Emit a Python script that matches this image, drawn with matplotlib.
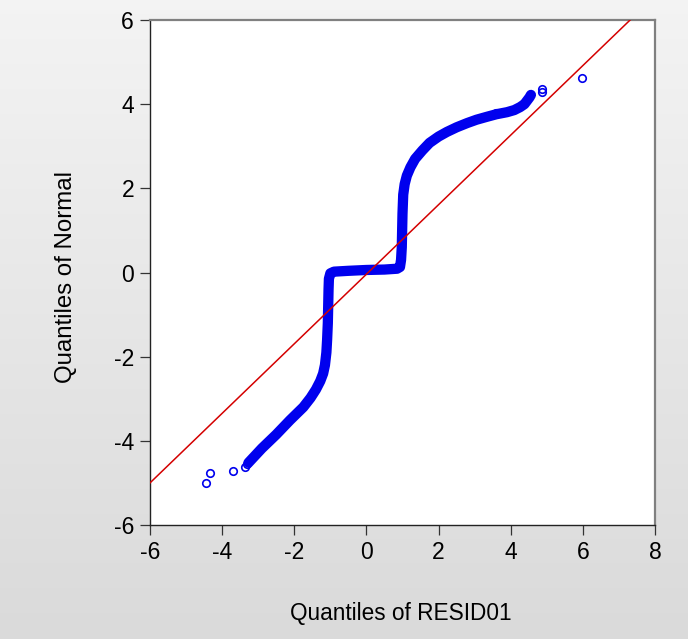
import numpy as np
import matplotlib
matplotlib.use("Agg")
import matplotlib.pyplot as plt

# Dense body of the Q-Q scatter (quantiles of RESID01 vs quantiles of Normal)
body_resid = [-3.27, -2.90, -2.50, -2.12, -1.75, -1.55, -1.40, -1.28, -1.20, -1.15,
              -1.11, -1.09, -1.07, -1.06, -1.05, -1.04, -1.00, -0.90, -0.50, 0.00,
              0.50, 0.85, 0.93, 0.96, 0.98, 0.99, 1.00, 1.02, 1.06, 1.12, 1.22,
              1.35, 1.55, 1.75, 2.00, 2.23, 2.50, 2.79, 3.05, 3.34, 3.60, 3.90,
              4.10, 4.26, 4.38, 4.45, 4.52, 4.56]
body_normal = [-4.52, -4.18, -3.85, -3.51, -3.20, -2.98, -2.78, -2.58, -2.40, -2.20,
               -1.90, -1.60, -1.20, -0.80, -0.40, -0.15, -0.02, 0.02, 0.04, 0.06,
               0.07, 0.09, 0.13, 0.30, 0.60, 1.00, 1.40, 1.85, 2.10, 2.30, 2.50,
               2.70, 2.90, 3.08, 3.23, 3.34, 3.45, 3.55, 3.63, 3.70, 3.76, 3.81,
               3.86, 3.93, 4.00, 4.08, 4.16, 4.22]

# Individual tail points
tail_resid = [-4.45, -4.34, -3.71, -3.37, -3.30, 3.60, 4.86, 4.88, 5.98]
tail_normal = [-5.00, -4.77, -4.71, -4.61, -4.55, 3.78, 4.37, 4.30, 4.62]

# Reference line: normal = intercept + slope * resid
line_intercept = -0.041
line_slope = 0.8264

x_ticks = [-6, -4, -2, 0, 2, 4, 6, 8]
y_ticks = [-6, -4, -2, 0, 2, 4, 6]
x_label = "Quantiles of RESID01"
y_label = "Quantiles of Normal"

plt.rcParams['font.family'] = ['Liberation Sans', 'DejaVu Sans']
plt.rcParams['axes.unicode_minus'] = False

W, H = 688, 639
fig = plt.figure(figsize=(W / 100, H / 100), dpi=100)

# gradient background
bg = fig.add_axes([0, 0, 1, 1], zorder=-10)
grad = np.linspace(0.955, 0.855, 256).reshape(-1, 1)
bg.imshow(np.dstack([grad, grad, grad]), aspect='auto', extent=[0, 1, 0, 1],
          interpolation='bicubic')
bg.set_axis_off()

L, R, T, B = 150, 655, 20, 525
ax = fig.add_axes([L / W, 1 - B / H, (R - L) / W, (B - T) / H])
ax.set_facecolor('white')
ax.set_xlim(-6, 8)
ax.set_ylim(-6, 6)

blue = '#0000ee'
ax.plot(body_resid, body_normal, '-', color=blue, lw=7.4,
        solid_capstyle='round', solid_joinstyle='round', zorder=2)
ax.plot(tail_resid, tail_normal, 'o', mfc='none', mec=blue, ms=5.4, mew=1.2,
        zorder=3)

xs = np.array([-6, 8])
ax.plot(xs, line_intercept + line_slope * xs, color='#d40000', lw=1.1, zorder=4)

ax.set_xticks(x_ticks)
ax.set_yticks(y_ticks)
ax.tick_params(direction='out', length=7, width=0.9, labelsize=16.5, pad=4.5,
               top=False, right=False, colors='#333333', labelcolor='black')
for s in ['left', 'bottom']:
    ax.spines[s].set_color('#222222')
    ax.spines[s].set_linewidth(1.0)
for s in ['top', 'right']:
    ax.spines[s].set_color('#808080')
    ax.spines[s].set_linewidth(1.6)

fig.text(401 / W, 1 - 620 / H, x_label, ha='center', va='baseline', fontsize=16.3)
fig.text(66 / W, 1 - 277 / H, y_label, ha='center', va='center', rotation=90,
         fontsize=17.3)

fig.savefig('out.png', dpi=100)
